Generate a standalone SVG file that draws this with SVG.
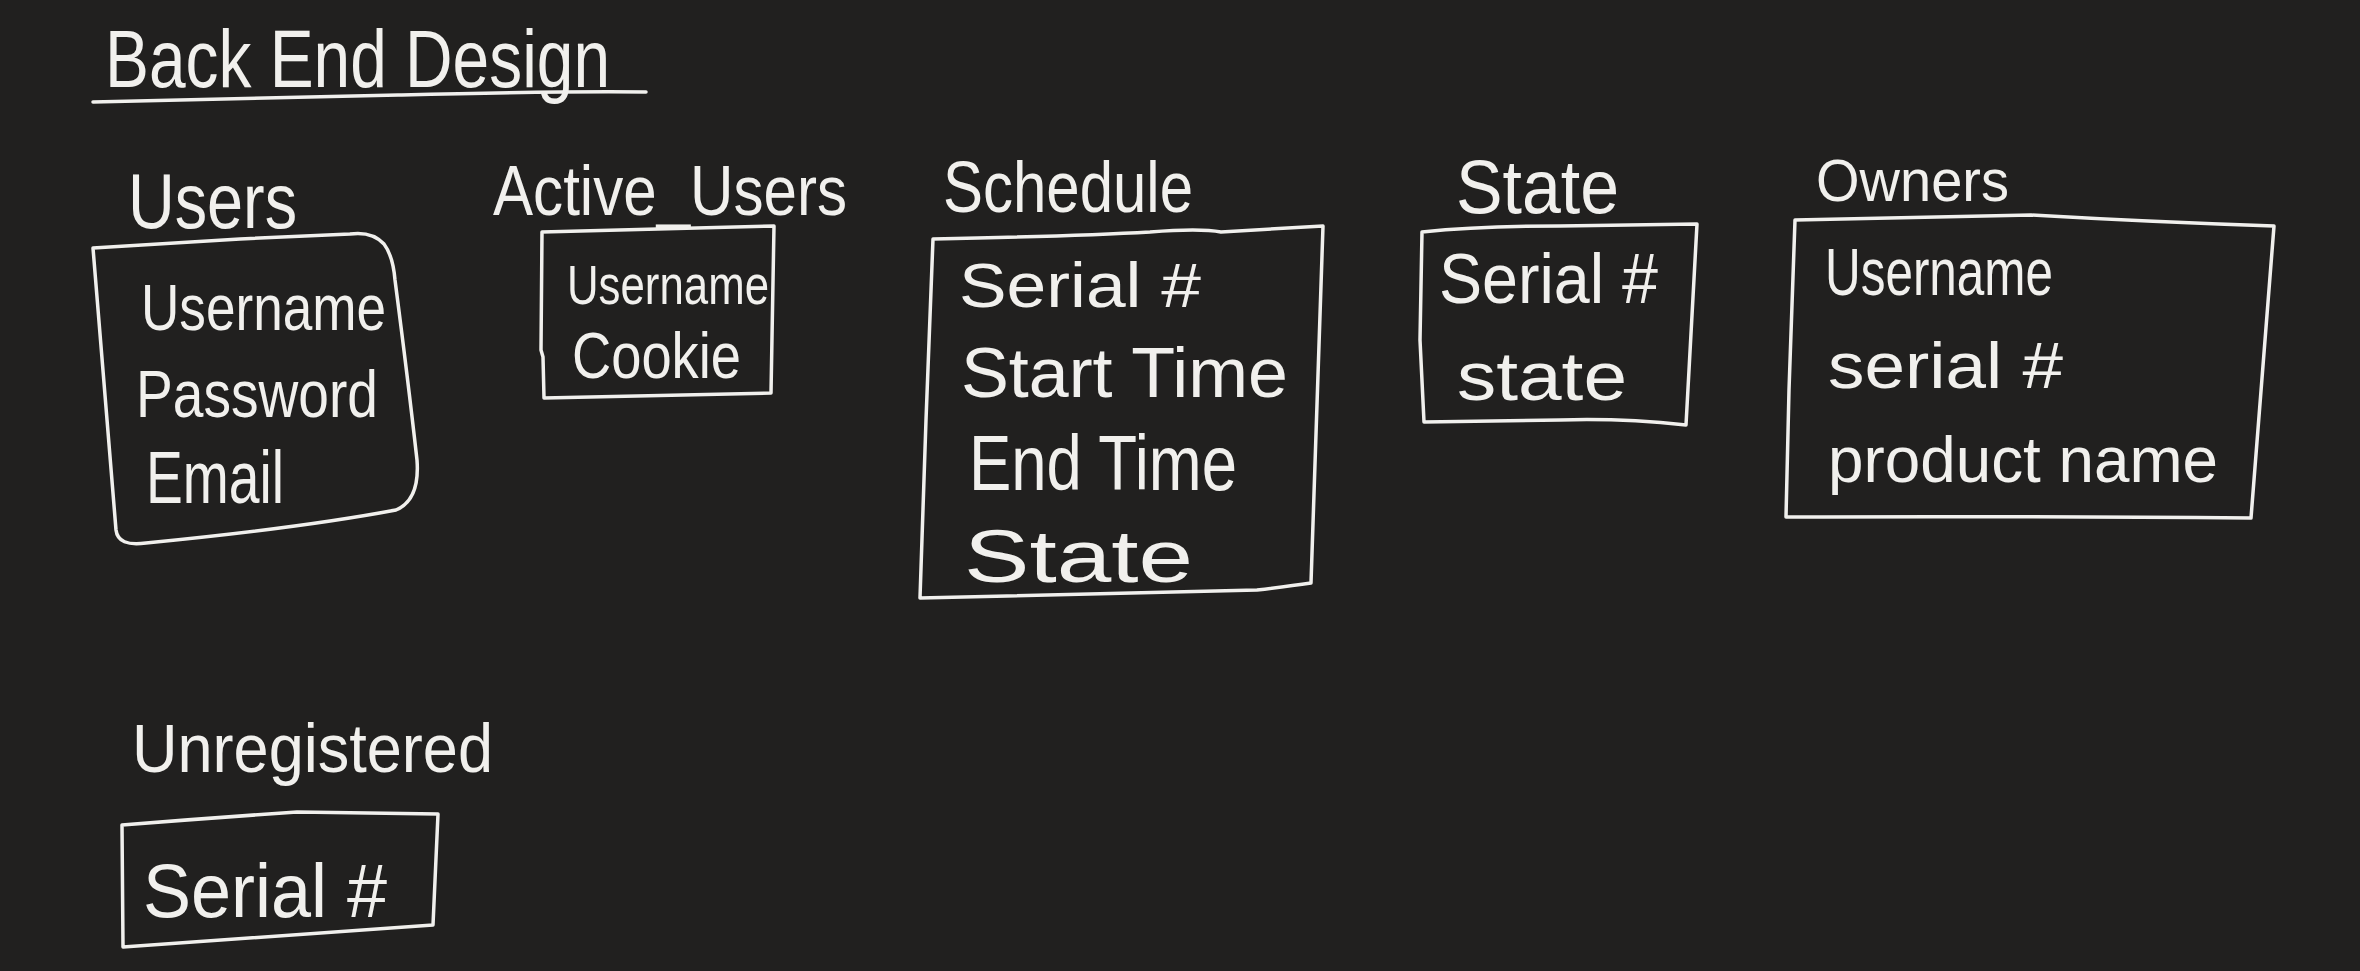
<svg xmlns="http://www.w3.org/2000/svg" width="2360" height="971" viewBox="0 0 2360 971">
<style>
.bg{fill:#21201f}
.ln{fill:none;stroke:#f1f0ed;stroke-width:3.5;stroke-linecap:round;stroke-linejoin:round}
.t{fill:#f1f0ed;font-family:"Liberation Sans",Arial,sans-serif}
</style>
<rect class="bg" x="0" y="0" width="2360" height="971"/>
<g id="title">
<text class="t" x="105" y="87" font-size="82" textLength="505" lengthAdjust="spacingAndGlyphs">Back End Design</text>
<path class="ln" d="M93,102 C200,99 300,97 398,95 C480,93 560,91 646,92"/>
</g>
<g id="users">
<text class="t" x="128" y="228" font-size="78" textLength="169" lengthAdjust="spacingAndGlyphs">Users</text>
<path class="ln" d="M93,248 L240,239 L350,234 Q372,231 384,244 Q393,256 395,280 Q408,380 417,460 Q420,500 396,510 Q300,528 146,543 Q118,547 116,530 L93,248 Z"/>
<text class="t" x="141" y="330" font-size="65" textLength="245" lengthAdjust="spacingAndGlyphs">Username</text>
<text class="t" x="136" y="417" font-size="67" textLength="242" lengthAdjust="spacingAndGlyphs">Password</text>
<text class="t" x="146" y="503" font-size="74" textLength="138" lengthAdjust="spacingAndGlyphs">Email</text>
</g>
<g id="active_users">
<text class="t" x="493" y="215" font-size="70" textLength="354" lengthAdjust="spacingAndGlyphs">Active_Users</text>
<path class="ln" d="M542,232 L774,226 L771,393 L544,398 L543,357 L541,350 Z"/>
<text class="t" x="567" y="304" font-size="55" textLength="202" lengthAdjust="spacingAndGlyphs">Username</text>
<text class="t" x="572" y="378" font-size="64" textLength="169" lengthAdjust="spacingAndGlyphs">Cookie</text>
</g>
<g id="schedule">
<text class="t" x="943" y="212" font-size="73" textLength="250" lengthAdjust="spacingAndGlyphs">Schedule</text>
<path class="ln" d="M933,239 Q1080,236 1150,232 Q1200,228 1221,232 L1323,226 L1311,583 Q1290,586 1257,590 L920,598 L926,420 L933,239 Z"/>
<text class="t" x="959" y="307" font-size="63" textLength="242" lengthAdjust="spacingAndGlyphs">Serial #</text>
<text class="t" x="961" y="397" font-size="70" textLength="327" lengthAdjust="spacingAndGlyphs">Start Time</text>
<text class="t" x="969" y="490" font-size="77" textLength="268" lengthAdjust="spacingAndGlyphs">End Time</text>
<text class="t" x="964" y="582" font-size="75" textLength="229" lengthAdjust="spacingAndGlyphs">State</text>
</g>
<g id="state">
<text class="t" x="1456" y="213" font-size="76" textLength="163" lengthAdjust="spacingAndGlyphs">State</text>
<path class="ln" d="M1422,232 Q1480,226 1560,226 L1697,224 L1686,425 Q1620,418 1560,420 L1424,422 L1420,340 Z"/>
<text class="t" x="1439" y="303" font-size="70" textLength="219" lengthAdjust="spacingAndGlyphs">Serial #</text>
<text class="t" x="1457" y="400" font-size="68" textLength="170" lengthAdjust="spacingAndGlyphs">state</text>
</g>
<g id="owners">
<text class="t" x="1816" y="201" font-size="60" textLength="193" lengthAdjust="spacingAndGlyphs">Owners</text>
<path class="ln" d="M1795,220 Q1900,218 2031,215 Q2150,222 2274,226 L2251,518 Q2000,516 1786,517 L1789,390 Z"/>
<text class="t" x="1825" y="295" font-size="66" textLength="228" lengthAdjust="spacingAndGlyphs">Username</text>
<text class="t" x="1828" y="388" font-size="64" textLength="235" lengthAdjust="spacingAndGlyphs">serial #</text>
<text class="t" x="1828" y="482" font-size="64" textLength="390" lengthAdjust="spacingAndGlyphs">product name</text>
</g>
<g id="unregistered">
<text class="t" x="132" y="772" font-size="68" textLength="361" lengthAdjust="spacingAndGlyphs">Unregistered</text>
<path class="ln" d="M122,825 Q210,818 297,812 L438,814 L433,925 L123,947 Z"/>
<text class="t" x="143" y="917" font-size="76" textLength="244" lengthAdjust="spacingAndGlyphs">Serial #</text>
</g>
<g id="connectors"/>
</svg>
